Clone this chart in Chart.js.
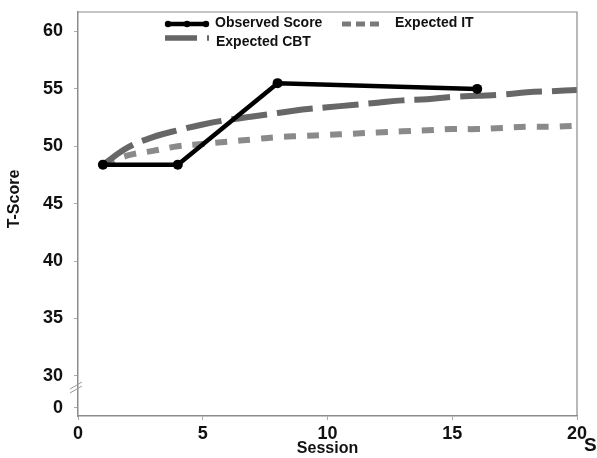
<!DOCTYPE html>
<html>
<head>
<meta charset="utf-8">
<script src="https://cdn.jsdelivr.net/npm/chart.js@4"></script>
<style>
  html, body { margin: 0; padding: 0; background: #fff; }
  #wrap { width: 597px; height: 458px; }
</style>
</head>
<body>
<div id="wrap"><canvas id="grafik"></canvas></div>
<script>
// data
const observedSessions = [1, 4, 8, 16];
const observedScores = [48.4, 48.4, 55.5, 55.0];

const expectedSessions = [1, 2, 3, 4, 5, 6, 7, 8, 9, 10, 11, 12, 13, 14, 15, 16, 17, 18, 19, 20];
const expectedCBT = [48.4, 49.9, 50.8, 51.4, 51.9, 52.3, 52.6, 52.9, 53.2, 53.4, 53.6, 53.8, 54.0, 54.1, 54.3, 54.4, 54.5, 54.7, 54.8, 54.9];
const expectedIT = [48.4, 49.2, 49.6, 50.0, 50.2, 50.4, 50.6, 50.8, 50.9, 51.0, 51.1, 51.2, 51.3, 51.4, 51.5, 51.5, 51.6, 51.7, 51.7, 51.8];

// y axis is broken: the "0" tick sits just under 30
const yTickValues = [27.2, 30, 35, 40, 45, 50, 55, 60];
const yTickLabels = ['0', '30', '35', '40', '45', '50', '55', '60'];

const fontFamily = '"Liberation Sans", Arial, Helvetica, sans-serif';

function toPoints(xs, ys) {
    return xs.map((x, i) => ({ x: x, y: ys[i] }));
}

// legend inside the plot, axis break, frame, y title
const extras = {
    id: 'extras',
    afterDraw(chart) {
        let ctx = chart.ctx;
        let area = chart.chartArea;
        ctx.save();

        // frame top and right
        ctx.strokeStyle = '#8c8c8c';
        ctx.lineWidth = 1.2;
        ctx.beginPath();
        ctx.moveTo(area.left, area.top);
        ctx.lineTo(area.right, area.top);
        ctx.lineTo(area.right, area.bottom);
        ctx.stroke();

        // axis break marks
        ctx.strokeStyle = '#9a9a9a';
        ctx.lineWidth = 1;
        for (let d = 0; d < 2; d++) {
            ctx.beginPath();
            ctx.moveTo(area.left - 8, 393 - d * 4);
            ctx.lineTo(area.left + 4, 386 - d * 4);
            ctx.stroke();
        }

        // legend
        ctx.lineCap = 'butt';
        ctx.strokeStyle = '#000';
        ctx.lineWidth = 4.5;
        ctx.beginPath();
        ctx.moveTo(166, 24);
        ctx.lineTo(208, 24);
        ctx.stroke();
        ctx.fillStyle = '#000';
        [168, 187, 206].forEach(px => {
            ctx.beginPath();
            ctx.arc(px, 24, 3.2, 0, Math.PI * 2);
            ctx.fill();
        });

        ctx.strokeStyle = '#7a7a7a';
        ctx.lineWidth = 5;
        ctx.setLineDash([9, 5]);
        ctx.beginPath();
        ctx.moveTo(342, 24);
        ctx.lineTo(383, 24);
        ctx.stroke();

        ctx.strokeStyle = '#666';
        ctx.lineWidth = 5.5;
        ctx.setLineDash([32, 10]);
        ctx.beginPath();
        ctx.moveTo(165, 38);
        ctx.lineTo(209, 38);
        ctx.stroke();
        ctx.setLineDash([]);

        ctx.fillStyle = '#111';
        ctx.font = 'bold 14px ' + fontFamily;
        ctx.textBaseline = 'middle';
        ctx.textAlign = 'left';
        ctx.fillText('Observed Score', 215, 23);
        ctx.fillText('Expected IT', 395, 23);
        ctx.fillText('Expected CBT', 216, 42);

        // y axis title
        ctx.save();
        ctx.translate(15, 199);
        ctx.rotate(-Math.PI / 2);
        ctx.textAlign = 'center';
        ctx.font = 'bold 16px ' + fontFamily;
        ctx.fillText('T-Score', 0, 0);
        ctx.restore();

        // stray letter at the right edge
        ctx.font = 'bold 19px ' + fontFamily;
        ctx.fillText('S', 584, 446);
        ctx.restore();
    }
};

const ctx = document.getElementById('grafik').getContext('2d');
let config = {
    type: 'line',
    data: {
        datasets: [{
            label: 'Observed Score',
            data: toPoints(observedSessions, observedScores),
            borderColor: '#000',
            backgroundColor: '#000',
            borderWidth: 4.5,
            pointRadius: 5,
            pointBackgroundColor: '#000',
            pointBorderWidth: 0,
            order: 0,
        }, {
            label: 'Expected CBT',
            data: toPoints(expectedSessions, expectedCBT),
            borderColor: '#676767',
            borderWidth: 6,
            borderDash: [36, 10],
            pointRadius: 0,
            tension: 0.4,
            order: 1,
        }, {
            label: 'Expected IT',
            data: toPoints(expectedSessions, expectedIT),
            borderColor: '#8a8a8a',
            borderWidth: 6,
            borderDash: [12, 11],
            pointRadius: 0,
            tension: 0.4,
            order: 2,
        }],
    },
    options: {
        responsive: true,
        maintainAspectRatio: false,
        animation: false,
        layout: { padding: { top: 12, right: 20, left: 0, bottom: 0 } },
        plugins: {
            legend: { display: false },
            tooltip: { enabled: false },
        },
        scales: {
            x: {
                type: 'linear',
                min: 0,
                max: 20,
                border: { color: '#8c8c8c', width: 1.5 },
                grid: { display: true, drawOnChartArea: false, tickLength: 4, color: '#aaa' },
                ticks: {
                    stepSize: 5,
                    padding: 3,
                    color: '#111',
                    font: { family: fontFamily, size: 18, weight: 'bold' },
                },
                title: {
                    display: true,
                    text: 'Session',
                    color: '#111',
                    padding: { top: -5, bottom: 0 },
                    font: { family: fontFamily, size: 16, weight: 'bold' },
                },
                afterFit(scale) {
                    scale.height = 42;
                    scale.paddingLeft = 0;
                    scale.paddingRight = 0;
                },
            },
            y: {
                min: 26.5,
                max: 61.7,
                border: { color: '#8c8c8c', width: 1.5 },
                grid: { display: true, drawOnChartArea: false, tickLength: 4, color: '#aaa' },
                afterBuildTicks(scale) {
                    scale.ticks = yTickValues.map(v => ({ value: v }));
                },
                ticks: {
                    padding: 11,
                    color: '#111',
                    font: { family: fontFamily, size: 18, weight: 'bold' },
                    callback: function (value) {
                        let i = yTickValues.indexOf(value);
                        return i >= 0 ? yTickLabels[i] : '';
                    },
                },
                afterFit(scale) {
                    scale.width = 78;
                    scale.paddingTop = 0;
                    scale.paddingBottom = 0;
                },
            },
        },
    },
    plugins: [extras],
};

let chart = new Chart(ctx, config);
</script>
</body>
</html>
